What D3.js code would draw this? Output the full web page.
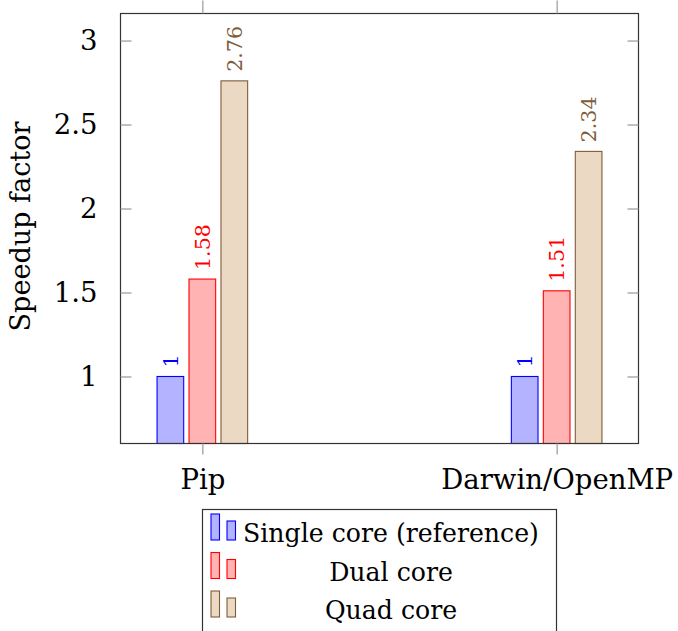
<!DOCTYPE html>
<html>
<head>
<meta charset="utf-8">
<script src="https://cdn.jsdelivr.net/npm/d3@7"></script>
<style>
  html, body { margin: 0; padding: 0; background: #fff; }
  svg { display: block; }
  svg text { font-family: "DejaVu Serif" !important; }
</style>
</head>
<body>
<svg id="chart" width="678" height="631"></svg>
<script>
// ---- Data ----
const categories = ["Pip", "Darwin/OpenMP"];
const seriesNames = ["Single core (reference)", "Dual core", "Quad core"];
const singleCore = [1, 1];
const dualCore = [1.58, 1.51];
const quadCore = [2.76, 2.34];
const yTicks = [1, 1.5, 2, 2.5, 3];
const yLabel = "Speedup factor";

const seriesValues = [singleCore, dualCore, quadCore];
const fills = ["#b3b3ff", "#ffb3b3", "#ebd9c4"];
const strokes = ["#0000ff", "#ff0000", "#7f5c3a"];

// ---- Layout ----
const svg = d3.select("#chart");
const pLeft = 120.5, pRight = 638.5, pTop = 13.5, pBottom = 443.5;

// font-size calibration: fit text widths to the reference
function fitSize(str, targetWidth) {
  const t = svg.append("text").attr("font-size", 100).text(str);
  const w = t.node().getComputedTextLength();
  t.remove();
  return 100 * targetWidth / w;
}
const fsMain = Math.min(32, fitSize("Darwin/OpenMP", 232));
const fsLegend = Math.min(32, fitSize("Single core (reference)", 296));
const fsYLabel = Math.min(32, fitSize(yLabel, 210));
const fsBar = Math.min(27, fitSize("1.58", 46));

const x = d3.scalePoint().domain(categories).range([pLeft, pRight]).padding(0.231);
const xs = d3.scaleBand().domain(seriesNames).range([-45.3, 45.3]).paddingInner(0.166).paddingOuter(0);
const y = d3.scaleLinear().domain([0.601, 3.161]).range([pBottom, pTop]);

// Bars
seriesNames.forEach((name, si) => {
  const g = svg.append("g");
  const data = categories.map((c, ci) => ({ c, v: seriesValues[si][ci] }));
  g.selectAll("rect").data(data).enter().append("rect")
    .attr("x", d => x(d.c) + xs(name))
    .attr("y", d => y(d.v))
    .attr("width", xs.bandwidth())
    .attr("height", d => pBottom - y(d.v))
    .attr("fill", fills[si])
    .attr("stroke", strokes[si])
    .attr("stroke-width", 1.1);
  g.selectAll("text").data(data).enter().append("text")
    .attr("transform", d => `translate(${x(d.c) + xs(name) + xs.bandwidth() / 2 + fsBar * 0.36},${y(d.v) - 9}) rotate(-90)`)
    .attr("text-anchor", "start")
    .attr("font-size", fsBar)
    .attr("fill", strokes[si])
    .text(d => d.v);
});

// Axis frame
svg.append("rect")
  .attr("x", pLeft).attr("y", pTop)
  .attr("width", pRight - pLeft).attr("height", pBottom - pTop)
  .attr("fill", "none").attr("stroke", "#333").attr("stroke-width", 1.2);

// Y axis (ticks inside, mirrored on right)
const yAxisL = d3.axisLeft(y).tickValues(yTicks).tickSizeInner(-11).tickSizeOuter(0).tickPadding(23)
  .tickFormat(d3.format("~g"));
const gyl = svg.append("g").attr("transform", `translate(${pLeft},0)`).call(yAxisL);
gyl.select(".domain").remove();
gyl.selectAll("line").attr("stroke", "#999").attr("stroke-width", 1.2);
gyl.selectAll("text").attr("font-size", fsMain).attr("fill", "#000");

const yAxisR = d3.axisRight(y).tickValues(yTicks).tickSizeInner(-11).tickSizeOuter(0).tickFormat("");
const gyr = svg.append("g").attr("transform", `translate(${pRight},0)`).call(yAxisR);
gyr.select(".domain").remove();
gyr.selectAll("line").attr("stroke", "#999").attr("stroke-width", 1.2);

// X axis (ticks outside, mirrored on top)
const xAxisB = d3.axisBottom(x).tickSizeInner(11).tickSizeOuter(0).tickPadding(0);
const gxb = svg.append("g").attr("transform", `translate(0,${pBottom})`).call(xAxisB);
gxb.select(".domain").remove();
gxb.selectAll("line").attr("stroke", "#999").attr("stroke-width", 1.2);
gxb.selectAll("text").attr("font-size", fsMain).attr("fill", "#000")
  .attr("dy", null).attr("y", 45);

const xAxisT = d3.axisTop(x).tickSizeInner(13).tickSizeOuter(0).tickFormat("");
const gxt = svg.append("g").attr("transform", `translate(0,${pTop})`).call(xAxisT);
gxt.select(".domain").remove();
gxt.selectAll("line").attr("stroke", "#999").attr("stroke-width", 1.2);

// Y label
svg.append("text")
  .attr("transform", `translate(30,${(pTop + pBottom) / 2 - 2}) rotate(-90)`)
  .attr("text-anchor", "middle")
  .attr("font-size", fsYLabel)
  .text(yLabel);

// Legend
const lg = svg.append("g");
lg.append("rect")
  .attr("x", 202.5).attr("y", 509.5).attr("width", 354).attr("height", 140)
  .attr("fill", "#fff").attr("stroke", "#333").attr("stroke-width", 1.2);
const rowY = [527, 565.5, 604];
seriesNames.forEach((name, si) => {
  const cy = rowY[si];
  lg.append("rect").attr("x", 211).attr("y", cy - 13).attr("width", 8.5).attr("height", 26)
    .attr("fill", fills[si]).attr("stroke", strokes[si]).attr("stroke-width", 1.1);
  lg.append("rect").attr("x", 227).attr("y", cy - 6).attr("width", 8.5).attr("height", 19)
    .attr("fill", fills[si]).attr("stroke", strokes[si]).attr("stroke-width", 1.1);
  lg.append("text").attr("x", 391).attr("y", cy + 15)
    .attr("text-anchor", "middle").attr("font-size", fsLegend)
    .text(name);
});
</script>
</body>
</html>
